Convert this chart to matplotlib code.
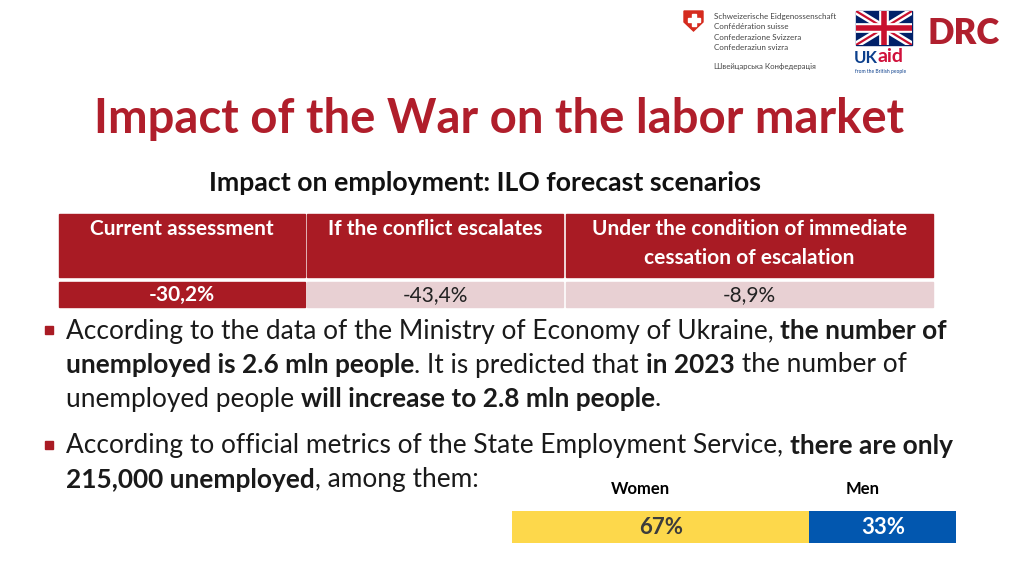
import matplotlib.pyplot as plt
from matplotlib.patches import Rectangle, Polygon

plt.rcParams['font.family'] = ['Lato', 'DejaVu Sans']

# Data
title = 'Impact of the War on the labor market'
subtitle = 'Impact on employment: ILO forecast scenarios'
scenarios = [['Current assessment'], ['If the conflict escalates'],
             ['Under the condition of immediate', 'cessation of escalation']]
scenario_values = ['-30,2%', '-43,4%', '-8,9%']
genders = ['Women', 'Men']
gender_shares = [67, 33]

bullets = [
    [[('According to the data of the Ministry of Economy of Ukraine, ', False), ('the number of', True)],
     [('unemployed is 2.6 mln people', True), ('. It is predicted that ', False), ('in 2023', True),
      (' the number of', False)],
     [('unemployed people ', False), ('will increase to 2.8 mln people', True), ('.', False)]],
    [[('According to official metrics of the State Employment Service, ', False), ('there are only', True)],
     [('215,000 unemployed', True), (', among them:', False)]],
]

RED = '#A91B24'
PINK = '#E8D0D3'
YELLOW = '#FDD84B'
BLUE = '#0257AF'

fig = plt.figure(figsize=(10.24, 5.76), dpi=100)
ax = fig.add_axes([0, 0, 1, 1])
ax.set_xlim(0, 1024)
ax.set_ylim(576, 0)
ax.axis('off')
renderer = fig.canvas.get_renderer()

# --- logos (rough) ---
ax.add_patch(Polygon([[684, 11], [703, 11], [703, 22], [693.5, 31], [684, 22]], color='#D52B1E'))
ax.add_patch(Rectangle((691.5, 14), 4, 12, color='white'))
ax.add_patch(Rectangle((687.5, 18), 12, 4, color='white'))
for i, s in enumerate(['Schweizerische Eidgenossenschaft', 'Confédération suisse',
                       'Confederazione Svizzera', 'Confederaziun svizra']):
    ax.text(714, 16 + i * 10.5, s, fontsize=5.8, color='#444444', va='center')
ax.text(714, 66, 'Швейцарська Конфедерація', fontsize=5.6, color='#444444', va='center')

flag = Rectangle((856, 11), 56, 34, color='#012169')
ax.add_patch(flag)
for xs, ys, lw, c in [((856, 912), (11, 45), 5, 'white'), ((856, 912), (45, 11), 5, 'white'),
                      ((856, 912), (11, 45), 1.6, '#C8102E'), ((856, 912), (45, 11), 1.6, '#C8102E'),
                      ((884, 884), (11, 45), 7, 'white'), ((856, 912), (28, 28), 7, 'white'),
                      ((884, 884), (11, 45), 4, '#C8102E'), ((856, 912), (28, 28), 4, '#C8102E')]:
    ln, = ax.plot(xs, ys, lw=lw, color=c, solid_capstyle='butt')
    ln.set_clip_path(flag)
uk = ax.text(854, 58, 'UK', fontsize=12, fontweight='bold', color='#0B3F8C', va='center')
ax.text(854 + uk.get_window_extent(renderer).width, 57, 'aid', fontsize=14, fontweight='bold',
        color='#D0103A', va='center')
ax.text(855, 71.5, 'from the British people', fontsize=3.6, color='#0B3F8C', va='center')
ax.text(927, 33, 'DRC', fontsize=25, fontweight='heavy', color='#B01F2E', va='center')

# --- title ---
ax.text(499, 119, title, fontsize=34, fontweight='bold', color='#B01E2B', ha='center', va='center')
ax.text(485, 183, subtitle, fontsize=19.2, fontweight='bold', color='#111111', ha='center', va='center')

# --- table ---
cols = [(59, 305), (307, 563), (566, 933)]
for i, (x0, x1) in enumerate(cols):
    ax.add_patch(Rectangle((x0, 214), x1 - x0, 63, color=RED))
    for j, line in enumerate(scenarios[i]):
        ax.text((x0 + x1) / 2, 229 + j * 29, line, fontsize=15, fontweight='bold', color='white',
                ha='center', va='center')
    ax.add_patch(Rectangle((x0, 282), x1 - x0, 25, color=RED if i == 0 else PINK))
    ax.text((x0 + x1) / 2, 295, scenario_values[i], fontsize=15,
            fontweight='bold' if i == 0 else 'normal',
            color='white' if i == 0 else '#222222', ha='center', va='center')

# --- bullet text ---
line_y = [[331, 365, 399], [446, 480]]
for b, lines in enumerate(bullets):
    ax.add_patch(Rectangle((45, line_y[b][0] - 5), 8, 8, color=RED))
    for ln_parts, y in zip(lines, line_y[b]):
        x = 66
        for txt, bold in ln_parts:
            t = ax.text(x, y, txt, fontsize=18.9, fontweight='bold' if bold else 'normal',
                        color='#1A1A1A', va='center', ha='left')
            x += t.get_window_extent(renderer).width

# --- gender split bar ---
bx = fig.add_axes([512 / 1024, (576 - 543) / 576, 444 / 1024, 32 / 576])
left = 0
for g, share, c, tc in zip(genders, gender_shares, [YELLOW, BLUE], ['#3C3C3C', 'white']):
    bx.barh(0, share, left=left, height=1, color=c)
    bx.text(left + share / 2, 0, f'{share}%', fontsize=16, fontweight='bold', color=tc,
            ha='center', va='center')
    bx.text(left + share / 2 - 4.5, 1.2, g, fontsize=12, fontweight='bold', color='black',
            ha='center', va='center')
    left += share
bx.set_xlim(0, 100)
bx.set_ylim(-0.5, 0.5)
bx.axis('off')

fig.savefig('out.png', dpi=100)
